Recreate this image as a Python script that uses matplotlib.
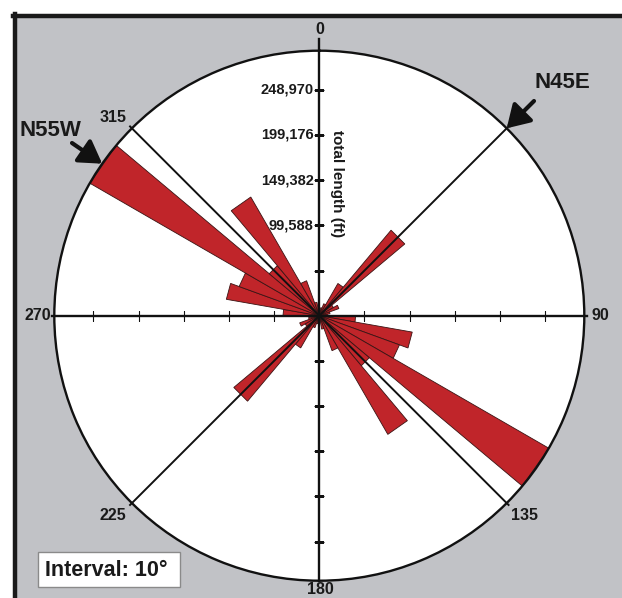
import numpy as np
import matplotlib
matplotlib.use("Agg")
import matplotlib.pyplot as plt
from matplotlib.patches import Rectangle
from matplotlib.lines import Line2D

plt.rcParams["font.family"] = ["Liberation Sans", "DejaVu Sans"]

# total lineament length (ft) per 10 degree azimuth bin, 0-180; the rose is bidirectional
bin_start = np.arange(0, 180, 10)
length_ft = [6000, 9000, 14000, 41000, 123000, 18000, 23000, 12000, 9000,
             40000, 104000, 94000, 292000, 72000, 151000, 41000, 15000, 7000]

ring_step = 49794
ring_count = [1, 2, 3, 4, 5]
labelled_rings = [2, 3, 4, 5]

trend_names = ["N55W", "N45E"]
trend_az = [305, 45]
interval_text = "Interval: 10°"

W, H = 622, 598
fig = plt.figure(figsize=(W / 100, H / 100), dpi=100)


def px(x, y):
    # pixel position (from top-left) -> figure fraction
    return x / W, 1 - y / H


# grey panel with a heavy frame on the left and top
fig.patches.append(Rectangle(px(14, H), 1, (H - 16) / H, transform=fig.transFigure,
                             facecolor="#c1c2c6", edgecolor="none", zorder=-5))
fig.add_artist(Line2D([14.5 / W, 14.5 / W], [0, 1 - 14 / H], lw=3.2, color="#1a1a1a"))
fig.add_artist(Line2D([13 / W, 1], [1 - 15.5 / H, 1 - 15.5 / H], lw=3.2, color="#1a1a1a"))

# polar axes
cx, cy, R = 319.3, 315.7, 265
ax = fig.add_axes([(cx - R) / W, (H - cy - R) / H, 2 * R / W, 2 * R / H], projection="polar")
ax.set_zorder(1)
ax.set_theta_zero_location("N")
ax.set_theta_direction(-1)
rmax = max(length_ft)
ax.set_ylim(0, rmax)
ax.set_xticks([])
ax.set_yticks([])
ax.grid(False)
ax.set_facecolor("white")
ax.spines["polar"].set_linewidth(1.7)
ax.spines["polar"].set_color("#111111")

# petals, both directions of each bin
all_az = np.concatenate([bin_start, bin_start + 180])
all_len = length_ft + length_ft
for az, L in zip(all_az, all_len):
    t = np.radians([az, az + 10])
    ax.fill([0, t[0], t[1]], [0, L, L], facecolor="#c0252a",
            edgecolor="#3a1414", lw=0.6, zorder=2)

# main axes and diagonal guide lines
for th, ext in [(0, 1.045), (90, 1.01), (180, 1.0), (270, 1.01)]:
    ax.plot([np.radians(th)] * 2, [0, rmax * ext], color="#111111", lw=1.7,
            clip_on=False, zorder=4)
for th in [45, 135, 225, 315]:
    ax.plot([np.radians(th)] * 2, [0, rmax * 1.01], color="#111111", lw=1.4,
            clip_on=False, zorder=4)

# ring ticks along the four axes
r_ticks = ring_step * np.array(ring_count)
for th, mk in [(0, "_"), (180, "_"), (90, "|"), (270, "|")]:
    ax.plot(np.full(len(r_ticks), np.radians(th)), r_ticks, ls="none", marker=mk,
            ms=7.5, mew=0.8, color="#111111", zorder=5)

for k in labelled_rings:
    ax.annotate(f"{ring_step * k:,}", xy=(0, ring_step * k), xytext=(-4, 0),
                textcoords="offset points", ha="right", va="center",
                fontsize=10.5, fontweight="bold", color="#1a1a1a", zorder=6)

fig.text(*px(337, 184), "total length (ft)", rotation=-90, ha="center", va="center",
         fontsize=11, fontweight="bold", color="#1a1a1a", zorder=5)

# compass labels
for txt, (x, y) in [("0", (320, 30)), ("90", (600, 316)), ("180", (320, 589)),
                    ("270", (38, 316)), ("315", (113, 118)), ("225", (113, 516)),
                    ("135", (524, 516))]:
    fig.text(*px(x, y), txt, ha="center", va="center", fontsize=11.5,
             fontweight="bold", color="#1a1a1a", zorder=5)

# dominant trend arrows
for name, az, tail, lab in zip(trend_names, trend_az, [(72, 143), (534, 101)],
                               [(50, 131), (562, 83)]):
    ax.annotate("", xy=(np.radians(az), rmax), xycoords="data",
                xytext=(tail[0], H - tail[1]), textcoords="figure pixels",
                arrowprops=dict(arrowstyle="-|>,head_length=0.9,head_width=0.55",
                                lw=3, color="#111111", mutation_scale=15,
                                shrinkA=0, shrinkB=0),
                annotation_clip=False, zorder=6)
    fig.text(*px(*lab), name, ha="center", va="center", fontsize=16,
             fontweight="bold", color="#1a1a1a", zorder=5)

# interval box
fig.patches.append(Rectangle(px(38, 587), 142 / W, 35 / H, transform=fig.transFigure,
                             facecolor="white", edgecolor="#8a8a8a", lw=1, zorder=3))
fig.text(*px(45, 570), interval_text, ha="left", va="center", fontsize=15.5,
         fontweight="bold", color="#1a1a1a", zorder=4)

fig.savefig("out.png", dpi=100)
